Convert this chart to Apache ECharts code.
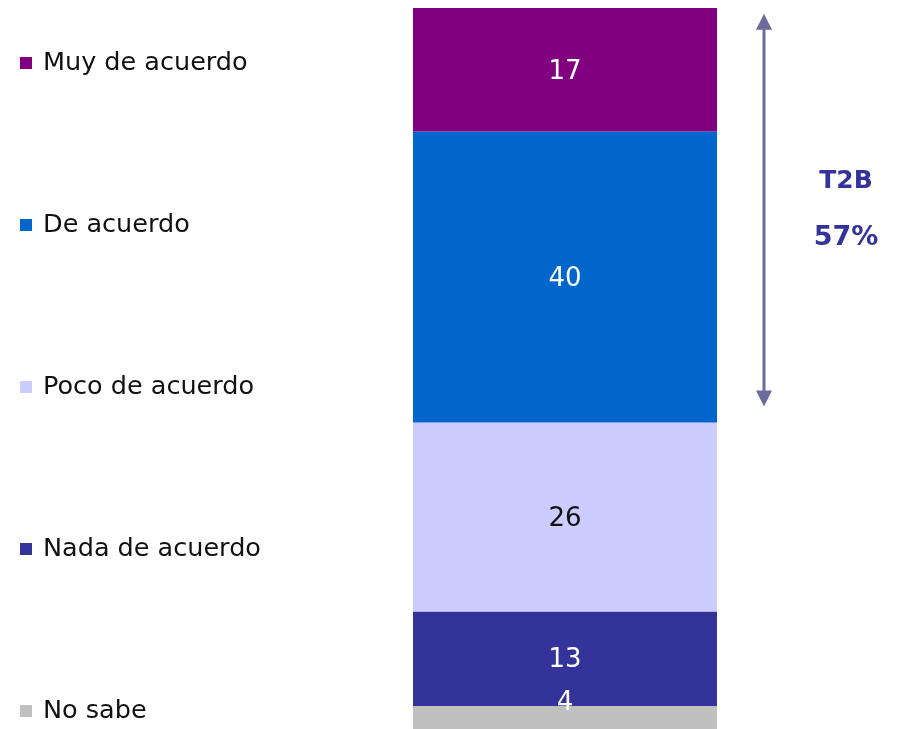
<!DOCTYPE html>
<html><head><meta charset="utf-8">
<script src="https://cdn.jsdelivr.net/npm/echarts@6/dist/echarts.min.js"></script>
<style>html,body{margin:0;padding:0;background:#fff}#c{width:897px;height:729px}</style>
</head><body><div id="c"></div>
<script>
const categories = ['Total'];
const seriesNames = ['No sabe', 'Nada de acuerdo', 'Poco de acuerdo', 'De acuerdo', 'Muy de acuerdo'];
const seriesValues = [4, 13, 26, 40, 17];
const t2bTitle = 'T2B';
const t2bValue = 57;

const colors = ['#C0C0C0', '#333399', '#CCCCFF', '#0066CC', '#800080'];
const labelColors = ['#ffffff', '#ffffff', '#111111', '#ffffff', '#ffffff'];
const FONT = 'DejaVu Sans';

const chart = echarts.init(document.getElementById('c'));

const series = seriesNames.map((name, i) => ({
  name: name,
  type: 'bar',
  stack: 'total',
  barWidth: '100%',
  data: [seriesValues[i]],
  itemStyle: { color: colors[i] },
  label: {
    show: true,
    position: 'inside',
    offset: i === 0 ? [0, -17] : [0, 2],
    color: labelColors[i],
    fontFamily: FONT,
    fontSize: 26,
    fontWeight: 'normal'
  },
  emphasis: { disabled: true }
}));

const legendOrder = seriesNames.slice().reverse();
const legendTops = [50, 212, 374, 536, 698];
const legends = legendOrder.map((n, i) => ({
  data: [n],
  left: 20,
  top: legendTops[i],
  padding: 0,
  icon: 'rect',
  itemWidth: 12,
  itemHeight: 12,
  selectedMode: false,
  textStyle: { fontFamily: FONT, fontSize: 25.5, color: '#111', padding: [0, 0, 0, 6] }
}));

chart.setOption({
  animation: false,
  legend: legends,
  grid: { left: 413, width: 304, top: 8, height: 727, outerBoundsMode: 'none', containLabel: false },
  xAxis: { type: 'category', data: categories, show: false },
  yAxis: { type: 'value', min: 0, max: 100, show: false },
  series: series
});

// T2B arrow annotation computed from the value scale
const topVal = 100;
const botVal = 100 - t2bValue;
const yTop = chart.convertToPixel({ yAxisIndex: 0 }, topVal - 0.8);
const yBot = chart.convertToPixel({ yAxisIndex: 0 }, botVal + 2.2);
const ax = 764;
const ac = '#6B6B9E';
const head = 16;
chart.setOption({
  graphic: [
    { type: 'line', shape: { x1: ax, y1: yTop + head - 2, x2: ax, y2: yBot - head + 2 }, style: { stroke: ac, lineWidth: 3 } },
    { type: 'polygon', shape: { points: [[ax, yTop], [ax - 8, yTop + head], [ax + 8, yTop + head]] }, style: { fill: ac } },
    { type: 'polygon', shape: { points: [[ax, yBot], [ax - 8, yBot - head], [ax + 8, yBot - head]] }, style: { fill: ac } },
    { type: 'text', x: 846, y: 181, style: { text: t2bTitle, fill: '#333399', font: 'bold 25px "DejaVu Sans"', textAlign: 'center', textVerticalAlign: 'middle' } },
    { type: 'text', x: 846, y: 238, style: { text: t2bValue + '%', fill: '#333399', font: 'bold 27px "DejaVu Sans"', textAlign: 'center', textVerticalAlign: 'middle' } }
  ]
});
</script></body></html>
